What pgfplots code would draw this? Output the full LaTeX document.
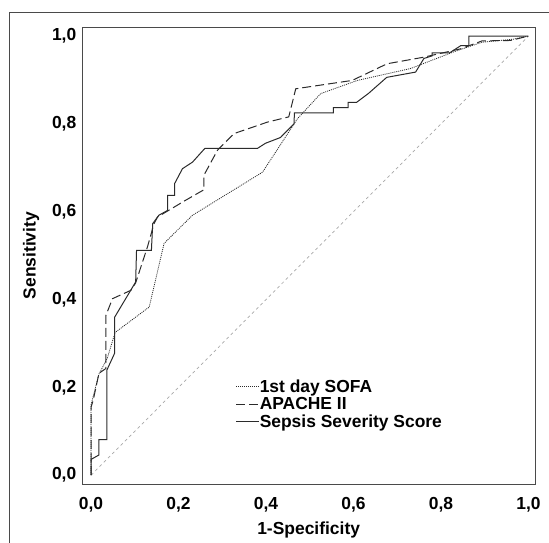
\documentclass[border=0pt]{standalone}
\usepackage{fontspec}
\setmainfont{Liberation Sans}
\usepackage{pgfplots}
\pgfplotsset{compat=1.18}

\definecolor{curve}{HTML}{2B2B2B}
\definecolor{diag}{HTML}{A8A8A8}
\definecolor{frame}{HTML}{4A4A4A}

\newcommand{\lbl}{\fontsize{17.5}{19}\selectfont\bfseries}

\begin{document}
\begin{tikzpicture}
\path[use as bounding box] (-82.3bp,-59bp) rectangle (466.7bp,484bp);
\draw[frame, line width=0.9bp] (-73.3bp,-70bp) -- (-73.3bp,472bp) -- (480bp,472bp);
\begin{axis}[
    at={(0,0)}, anchor=south west,
    scale only axis,
    width=452.7bp, height=456.7bp,
    xmin=-0.02, xmax=1.015,
    ymin=-0.02, ymax=1.02,
    xtick={0,0.2,0.4,0.6,0.8,1},
    ytick={0,0.2,0.4,0.6,0.8,1},
    xticklabels={{0,0},{0,2},{0,4},{0,6},{0,8},{1,0}},
    yticklabels={{0,0},{0,2},{0,4},{0,6},{0,8},{1,0}},
    major tick length=0pt,
    axis line style={frame, line width=1bp},
    tick label style={font=\lbl},
    xticklabel style={yshift=-10bp},
    yticklabel style={xshift=-2.5bp},
    xlabel={1-Specificity},
    ylabel={Sensitivity},
    label style={font=\lbl},
    xlabel style={yshift=-3bp},
    ylabel style={yshift=6bp},
    legend style={at={(axis cs:0.33,0.219)}, anchor=north west, draw=none, fill=none,
        font=\lbl, row sep=2.5bp, inner sep=0pt,
        nodes={inner sep=0.5bp}},
    legend cell align=left,
    legend image code/.code={\draw[#1] (0cm,0cm) -- (0.8cm,0cm);},
]
\addplot[diag, line width=0.7bp, dash pattern=on 3bp off 3bp, forget plot]
    coordinates {(0,0) (1,1)};

% 1st day SOFA
\addplot[curve, line width=0.8bp, dash pattern=on 1bp off 1bp] coordinates {
(0,0) (0,0.16) (0.005,0.18) (0.018,0.23) (0.037,0.266) (0.055,0.325)
(0.133,0.383) (0.167,0.528) (0.232,0.592) (0.392,0.69) (0.472,0.812)
(0.525,0.869) (0.609,0.899) (0.73,0.926) (0.829,0.964) (0.894,0.986)
(0.966,0.993) (1,1)
};
\addlegendentry{1st day SOFA}

% APACHE II
\addplot[curve, line width=1bp, dash pattern=on 9bp off 4bp] coordinates {
(0,0) (0,0.155) (0.005,0.171) (0.018,0.232) (0.034,0.243) (0.034,0.364)
(0.049,0.402) (0.091,0.421) (0.102,0.438) (0.129,0.52) (0.144,0.573)
(0.152,0.588) (0.216,0.626) (0.258,0.65) (0.258,0.683) (0.289,0.74)
(0.327,0.778) (0.403,0.804) (0.452,0.816) (0.468,0.88) (0.597,0.899)
(0.677,0.937) (0.761,0.952) (0.845,0.971) (0.894,0.989) (0.959,0.99)
(1,1)
};
\addlegendentry{APACHE II}

% Sepsis Severity Score
\addplot[curve, line width=1bp] coordinates {
(0,0) (0,0.036) (0.018,0.046) (0.018,0.081) (0.036,0.081) (0.036,0.239)
(0.054,0.278) (0.054,0.36) (0.102,0.44) (0.104,0.512) (0.138,0.512)
(0.141,0.573) (0.155,0.592) (0.175,0.603) (0.175,0.637) (0.191,0.637)
(0.191,0.664) (0.209,0.698) (0.232,0.713) (0.26,0.744) (0.38,0.744)
(0.399,0.756) (0.433,0.769) (0.464,0.8) (0.465,0.825) (0.554,0.825)
(0.554,0.837) (0.588,0.837) (0.588,0.849) (0.607,0.849) (0.635,0.87)
(0.676,0.906) (0.742,0.918) (0.761,0.949) (0.78,0.955) (0.78,0.962)
(0.82,0.962) (0.845,0.978) (0.864,0.978) (0.864,1) (1,1)
};
\addlegendentry{Sepsis Severity Score}
\end{axis}
\end{tikzpicture}
\end{document}
